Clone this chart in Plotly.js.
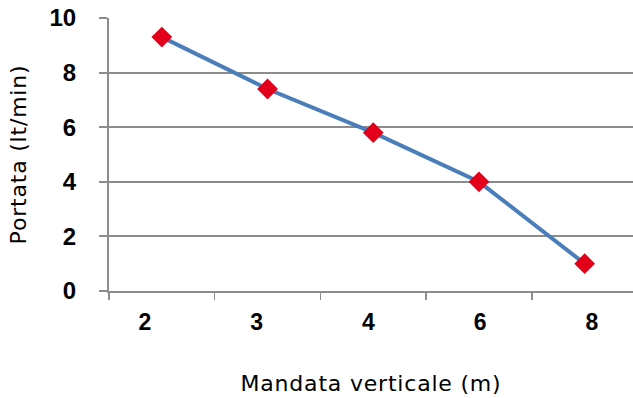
<!DOCTYPE html>
<html>
<head>
<meta charset="utf-8">
<script src="https://cdn.plot.ly/plotly-3.0.1.min.js"></script>
<style>
html,body{margin:0;padding:0;background:#fff;}
#chart{width:633px;height:398px;}
#chart .g-x2title text, #chart .g-ytitle text{letter-spacing:0.8px;}
</style>
</head>
<body>
<div id="chart"></div>
<script>
const categories = ["2", "3", "4", "6", "8"];
const portata = [9.3, 7.4, 5.8, 4.0, 1.0];
const yTicks = [0, 2, 4, 6, 8, 10];
const xTitle = "Mandata verticale (m)";
const yTitle = "Portata (lt/min)";

const tickFont = "'Liberation Sans', Arial, sans-serif";
const titleFont = "'DejaVu Sans', 'Open Sans', sans-serif";
const trace = {
  x: categories,
  y: portata,
  type: "scatter",
  mode: "lines+markers",
  line: {color: "#4a7ebb", width: 4},
  marker: {symbol: "diamond", color: "#e3001b", size: 16},
  cliponaxis: false
};
// invisible companion trace that carries the category labels on a second axis
const labelTrace = {
  x: categories,
  y: portata,
  xaxis: "x2",
  type: "scatter",
  mode: "markers",
  marker: {opacity: 0},
  hoverinfo: "skip"
};
const layout = {
  width: 633, height: 398,
  margin: {l: 109, r: 0, t: 18, b: 107},
  paper_bgcolor: "#fff", plot_bgcolor: "#fff",
  showlegend: false,
  xaxis: {
    type: "category",
    range: [-0.5, 4.457],
    tickson: "boundaries",
    ticks: "outside", ticklen: 7, tickwidth: 1.5, tickcolor: "#8c8c8c",
    showticklabels: false,
    showgrid: false, zeroline: false,
    showline: true, linecolor: "#8c8c8c", linewidth: 2
  },
  xaxis2: {
    type: "category",
    overlaying: "x",
    side: "bottom",
    anchor: "y",
    range: [-0.322, 4.369],
    ticks: "", showgrid: false, zeroline: false, showline: false,
    tickfont: {family: tickFont, size: 23, color: "#000", weight: "bold"},
    ticklabelstandoff: 15,
    title: {text: xTitle, font: {family: titleFont, size: 22, color: "#000"}, standoff: 41}
  },
  yaxis: {
    range: [0, 10],
    tickvals: yTicks,
    ticks: "outside", ticklen: 8, tickwidth: 2, tickcolor: "#8c8c8c",
    showgrid: true, gridcolor: "#8c8c8c", gridwidth: 2,
    zeroline: false,
    showline: true, linecolor: "#8c8c8c", linewidth: 2,
    tickfont: {family: tickFont, size: 24, color: "#000", weight: "bold"},
    ticklabelstandoff: 18,
    title: {text: yTitle, font: {family: titleFont, size: 22, color: "#000"}, standoff: 17}
  }
};
Plotly.newPlot("chart", [trace, labelTrace], layout, {staticPlot: true, displayModeBar: false});
</script>
</body>
</html>
